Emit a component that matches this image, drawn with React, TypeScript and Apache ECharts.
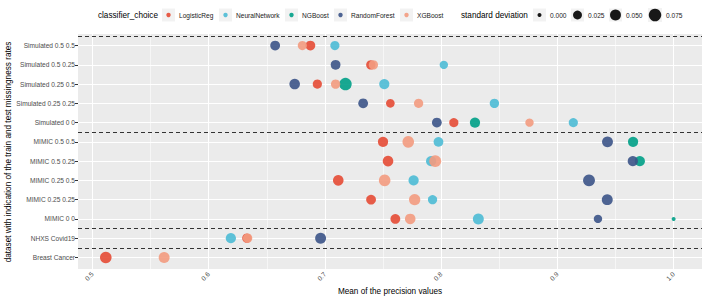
import React, { useEffect, useRef } from "react";
import * as echarts from "echarts";

const datasets = [
  "Simulated 0.5 0.5",
  "Simulated 0.5 0.25",
  "Simulated 0.25 0.5",
  "Simulated 0.25 0.25",
  "Simulated 0 0",
  "MIMIC 0.5 0.5",
  "MIMIC 0.5 0.25",
  "MIMIC 0.25 0.5",
  "MIMIC 0.25 0.25",
  "MIMIC 0 0",
  "NHXS Covid19",
  "Breast Cancer",
];

const classifiers = ["LogisticReg", "NeuralNetwork", "NGBoost", "RandomForest", "XGBoost"];
const colors = ["#E64B35", "#4DBBD5", "#00A087", "#3C5488", "#F39B7F"];

const logisticMean = [0.6875, 0.7395, 0.6935, 0.7563, 0.8109, 0.75, 0.7543, 0.7115, 0.7397, 0.7606, 0.6329, 0.5115];
const logisticSd = [0.035, 0.03, 0.028, 0.022, 0.028, 0.04, 0.045, 0.045, 0.035, 0.035, 0.03, 0.06];
const neuralMean = [0.7086, 0.8023, 0.7511, 0.8458, 0.9137, 0.7977, 0.7914, 0.7763, 0.7926, 0.832, 0.6191, null];
const neuralSd = [0.028, 0.02, 0.04, 0.03, 0.028, 0.035, 0.04, 0.04, 0.028, 0.05, 0.04, null];
const ngboostMean = [null, null, 0.7177, null, 0.8291, 0.9651, 0.9709, null, null, 1.0, null, null];
const ngboostSd = [null, null, 0.075, null, 0.04, 0.04, 0.04, null, null, 0.0, null, null];
const forestMean = [0.6572, 0.7092, 0.674, 0.7329, 0.7963, 0.9431, 0.9649, 0.9272, 0.9429, 0.9349, 0.6963, null];
const forestSd = [0.035, 0.035, 0.045, 0.035, 0.035, 0.05, 0.04, 0.065, 0.05, 0.02, 0.05, null];
const xgbMean = [0.6806, 0.7417, 0.7092, 0.7806, 0.876, 0.7717, 0.7949, 0.7514, 0.7772, 0.7734, 0.6335, 0.5617];
const xgbSd = [0.028, 0.03, 0.03, 0.028, 0.02, 0.06, 0.065, 0.06, 0.055, 0.045, 0.03, 0.05];

const means = [logisticMean, neuralMean, ngboostMean, forestMean, xgbMean];
const sds = [logisticSd, neuralSd, ngboostSd, forestSd, xgbSd];

const xTicks = [0.5, 0.6, 0.7, 0.8, 0.9, 1.0];
const xMinorTicks = [0.55, 0.65, 0.75, 0.85, 0.95];
const separators = [-0.5, 4.5, 9.5, 10.5];
const sdBreaks = [0, 0.025, 0.05, 0.075];
const sdLabels = ["0.000", "0.025", "0.050", "0.075"];

const FONT = "'Liberation Sans', Arial, Helvetica, sans-serif";
const sizeOf = (sd: number) => 4 + 31 * Math.sqrt(sd);

export default function App() {
  const ref = useRef<HTMLDivElement>(null);
  useEffect(() => {
    if (!ref.current) return;
    const chart = echarts.init(ref.current, undefined, { renderer: "svg" });

    const rowIdx = datasets.map((_, i) => i);

    const gridLines: any[] = [];
    xMinorTicks.forEach((v) =>
      gridLines.push({ xAxis: v, lineStyle: { color: "#FFFFFF", width: 0.55, type: "solid" } })
    );
    xTicks.forEach((v) =>
      gridLines.push({ xAxis: v, lineStyle: { color: "#FFFFFF", width: 1.1, type: "solid" } })
    );
    rowIdx.forEach((v) =>
      gridLines.push({ yAxis: v, lineStyle: { color: "#FFFFFF", width: 1.1, type: "solid" } })
    );
    const sepLines = separators.map((v) => ({
      yAxis: v,
      lineStyle: { color: "#333333", width: 1, type: [4, 3] },
    }));

    const scatterSeries = classifiers.map((name, ci) => ({
      name,
      type: "scatter",
      z: 3,
      data: means[ci]
        .map((m, i) => (m == null ? null : [m, i, sds[ci][i]]))
        .filter((d) => d != null),
      symbolSize: (v: number[]) => sizeOf(v[2]),
      itemStyle: { color: colors[ci], opacity: 0.9 },
    }));

    const legendBoxX = [162, 219, 285, 334, 400];
    const legendY = 15;
    const graphics: any[] = [
      {
        type: "text",
        x: 158,
        y: legendY,
        style: { text: "classifier_choice", font: `8.2px ${FONT}`, fill: "#000", align: "right", verticalAlign: "middle" },
      },
    ];
    classifiers.forEach((name, ci) => {
      const bx = legendBoxX[ci];
      graphics.push({ type: "rect", shape: { x: bx, y: legendY - 6.5, width: 13, height: 13 }, style: { fill: "#F2F2F2" } });
      graphics.push({ type: "circle", shape: { cx: bx + 6.5, cy: legendY, r: 2.2 }, style: { fill: colors[ci], opacity: 0.9 } });
      graphics.push({
        type: "text",
        x: bx + 17,
        y: legendY,
        style: { text: name, font: `6.6px ${FONT}`, fill: "#1A1A1A", align: "left", verticalAlign: "middle" },
      });
    });
    graphics.push({
      type: "text",
      x: 461,
      y: legendY,
      style: { text: "standard deviation", font: `8.2px ${FONT}`, fill: "#000", align: "left", verticalAlign: "middle" },
    });
    const sizeBoxX = [533, 571, 609, 648];
    const sizeBoxW = [13, 13, 13, 14];
    sdBreaks.forEach((sd, i) => {
      const bx = sizeBoxX[i];
      const w = sizeBoxW[i];
      graphics.push({ type: "rect", shape: { x: bx, y: legendY - w / 2, width: w, height: w }, style: { fill: "#F2F2F2" } });
      graphics.push({ type: "circle", shape: { cx: bx + w / 2, cy: legendY, r: sizeOf(sd) / 2 }, style: { fill: "#000", opacity: 0.9 } });
      graphics.push({
        type: "text",
        x: bx + w + 4,
        y: legendY,
        style: { text: sdLabels[i], font: `6.6px ${FONT}`, fill: "#1A1A1A", align: "left", verticalAlign: "middle" },
      });
    });
    graphics.push({
      type: "text",
      x: 390,
      y: 291,
      style: { text: "Mean of the precision values", font: `8.2px ${FONT}`, fill: "#000", align: "center", verticalAlign: "middle" },
    });
    graphics.push({
      type: "text",
      x: 8,
      y: 152,
      rotation: Math.PI / 2,
      style: {
        text: "dataset with indication of the train and test missingness rates",
        font: `8.2px ${FONT}`,
        fill: "#000",
        align: "center",
        verticalAlign: "middle",
      },
    });

    chart.setOption({
      animation: false,
      textStyle: { fontFamily: FONT },
      grid: {
        left: 78,
        right: 4,
        top: 34,
        bottom: 30,
        show: true,
        backgroundColor: "#EBEBEB",
        borderWidth: 0,
      },
      xAxis: {
        type: "value",
        min: 0.4876,
        max: 1.0244,
        splitLine: { show: false },
        axisLine: { show: false },
        axisTick: { show: true, customValues: xTicks, length: 3, lineStyle: { color: "#333333", width: 1 } },
        axisLabel: {
          customValues: xTicks,
          rotate: 45,
          fontSize: 6.6,
          color: "#4D4D4D",
          margin: 4,
          formatter: (v: number) => v.toFixed(1),
        },
      },
      yAxis: {
        type: "value",
        inverse: true,
        min: -0.6,
        max: 11.6,
        splitLine: { show: false },
        axisLine: { show: false },
        axisTick: { show: true, customValues: rowIdx, length: 3, lineStyle: { color: "#333333", width: 1 } },
        axisLabel: {
          customValues: rowIdx,
          fontSize: 6.6,
          color: "#4D4D4D",
          margin: 3,
          formatter: (v: number) => datasets[Math.round(v)],
        },
      },
      graphic: graphics,
      series: [
        {
          type: "scatter",
          z: 1,
          data: [],
          silent: true,
          markLine: {
            z: 1,
            silent: true,
            symbol: ["none", "none"],
            label: { show: false },
            animation: false,
            data: gridLines,
          },
        },
        ...scatterSeries,
        {
          type: "scatter",
          z: 4,
          data: [],
          silent: true,
          markLine: {
            z: 4,
            silent: true,
            symbol: ["none", "none"],
            label: { show: false },
            animation: false,
            data: sepLines,
          },
        },
      ],
    });
    return () => chart.dispose();
  }, []);
  return <div ref={ref} style={{ width: 706, height: 299, position: "absolute", left: 0, top: 0 }} />;
}
